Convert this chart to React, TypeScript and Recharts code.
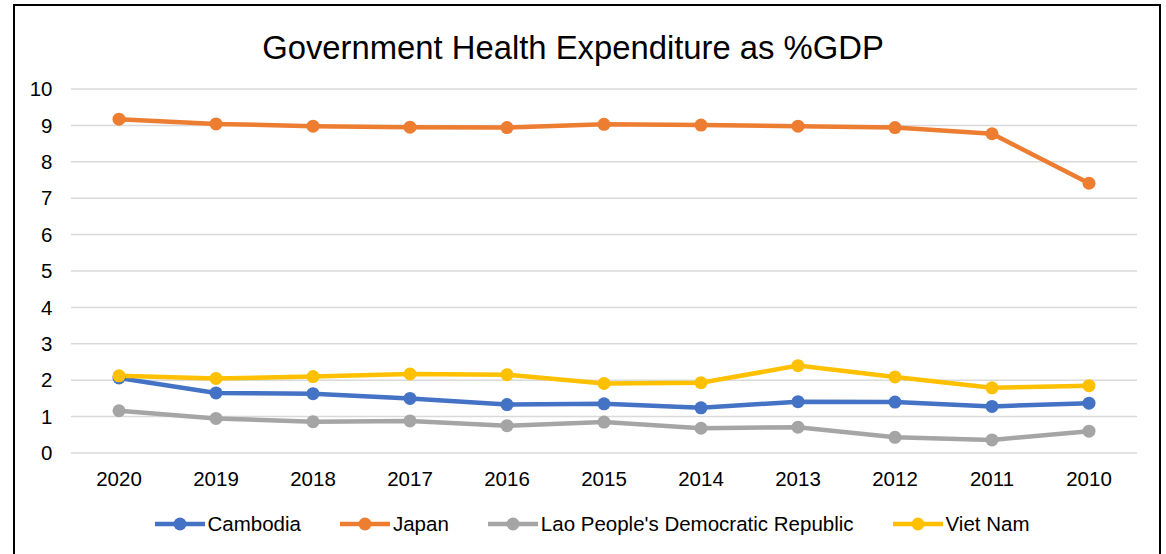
import React from "react";
import { LineChart, Line, XAxis, YAxis, CartesianGrid, Legend } from "recharts";

const years = ["2020", "2019", "2018", "2017", "2016", "2015", "2014", "2013", "2012", "2011", "2010"];
const cambodia = [2.06, 1.65, 1.63, 1.5, 1.33, 1.35, 1.24, 1.41, 1.4, 1.28, 1.37];
const japan = [9.17, 9.04, 8.98, 8.95, 8.94, 9.03, 9.01, 8.98, 8.94, 8.77, 7.41];
const lao = [1.16, 0.95, 0.86, 0.88, 0.75, 0.85, 0.68, 0.71, 0.43, 0.36, 0.6];
const vietNam = [2.12, 2.05, 2.1, 2.17, 2.15, 1.91, 1.93, 2.4, 2.09, 1.79, 1.85];
const yTicks = [0, 1, 2, 3, 4, 5, 6, 7, 8, 9, 10];

const series = [
  { key: "Cambodia", color: "#4472C4", values: cambodia },
  { key: "Japan", color: "#ED7D31", values: japan },
  { key: "Lao People's Democratic Republic", color: "#A5A5A5", values: lao },
  { key: "Viet Nam", color: "#FFC000", values: vietNam },
];

const data = years.map((y, i) => {
  const row: Record<string, string | number> = { year: y };
  series.forEach((s) => {
    row[s.key] = s.values[i];
  });
  return row;
});

const FONT = "'Liberation Sans', Arial, sans-serif";

const LegendContent = () => (
  <div
    style={{
      display: "flex",
      justifyContent: "center",
      alignItems: "center",
      height: 30,
      fontFamily: FONT,
      fontSize: 20.5,
      lineHeight: "24px",
      color: "#000",
    }}
  >
    {series.map((s, i) => (
      <div
        key={s.key}
        style={{ display: "flex", alignItems: "center", marginLeft: i === 0 ? 0 : 39 }}
      >
        <svg width={50} height={16} style={{ marginRight: 3, display: "block" }}>
          <line x1={0} y1={8} x2={50} y2={8} stroke={s.color} strokeWidth={4.5} />
          <circle cx={25} cy={8} r={6.5} fill={s.color} />
        </svg>
        <span>{s.key}</span>
      </div>
    ))}
  </div>
);

export default function App() {
  return (
    <div style={{ position: "absolute", left: 0, top: 0, width: 1166, height: 554, overflow: "hidden", background: "#fff" }}>
      <div
        style={{
          position: "absolute",
          left: 13,
          top: 4,
          width: 1148,
          height: 560,
          border: "2px solid #000",
          boxSizing: "border-box",
        }}
      />
      <div
        style={{
          position: "absolute",
          left: 0,
          top: 32,
          width: 1146,
          textAlign: "center",
          fontFamily: FONT,
          fontSize: 32.8,
          lineHeight: "32px",
          color: "#000",
        }}
      >
        Government Health Expenditure as %GDP
      </div>
      <div style={{ position: "absolute", left: 0, top: 0 }}>
        <LineChart
          width={1166}
          height={554}
          data={data}
          margin={{ top: 89, right: 29, left: 0, bottom: 31 }}
        >
          <CartesianGrid vertical={false} stroke="#D9D9D9" strokeWidth={1.5} />
          <XAxis
            dataKey="year"
            height={40}
            padding={{ left: 48, right: 48 }}
            tickLine={false}
            axisLine={false}
            tickSize={0}
            tickMargin={18}
            interval={0}
            tick={{ fill: "#000", fontSize: 20.5, fontFamily: FONT }}
          />
          <YAxis
            width={71}
            domain={[0, 10]}
            ticks={yTicks}
            interval={0}
            tickLine={false}
            axisLine={false}
            tickSize={0}
            tickMargin={18.5}
            tick={{ fill: "#000", fontSize: 20.5, fontFamily: FONT }}
          />
          <Legend
            verticalAlign="bottom"
            content={<LegendContent />}
            wrapperStyle={{ top: 508.5, bottom: "auto", left: 9, width: 1166 }}
          />
          {series.map((s) => (
            <Line
              key={s.key}
              type="linear"
              dataKey={s.key}
              stroke={s.color}
              strokeWidth={4.5}
              dot={{ r: 6.5, fill: s.color, stroke: s.color, strokeWidth: 0 }}
              activeDot={false}
              isAnimationActive={false}
            />
          ))}
        </LineChart>
      </div>
    </div>
  );
}
